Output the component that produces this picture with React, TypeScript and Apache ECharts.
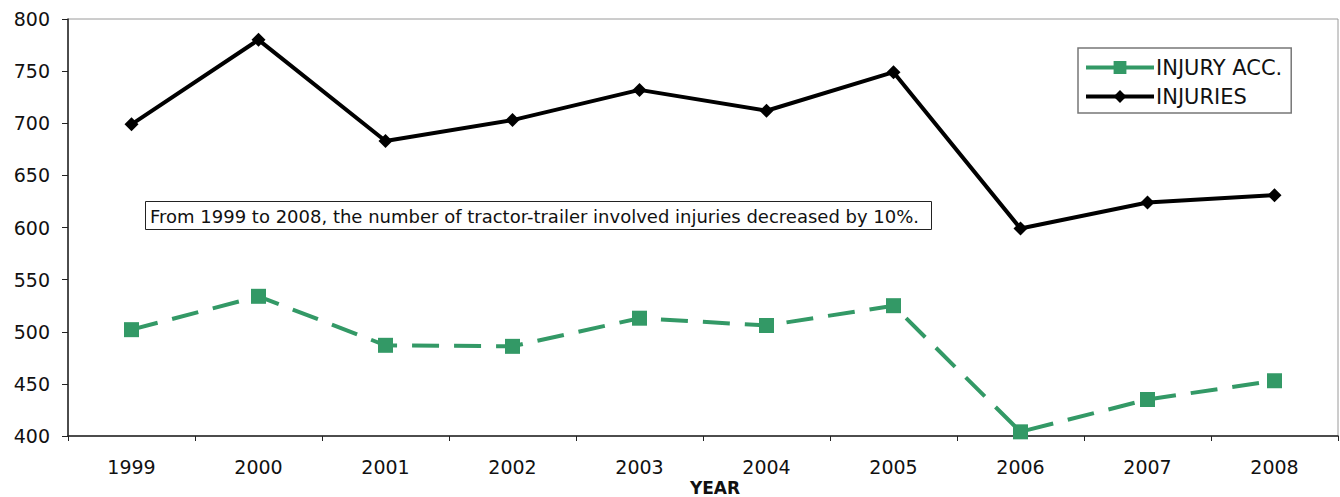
import React, { useEffect, useRef } from "react";
import * as echarts from "echarts";

const years = ["1999", "2000", "2001", "2002", "2003", "2004", "2005", "2006", "2007", "2008"];
const injuryAcc = [502, 534, 487, 486, 513, 506, 525, 404, 435, 453];
const injuries = [699, 780, 683, 703, 732, 712, 749, 599, 624, 631];
const annotation = "From 1999 to 2008, the number of tractor-trailer involved injuries decreased by 10%.";

export default function App() {
  const ref = useRef<HTMLDivElement>(null);
  useEffect(() => {
    if (!ref.current) return;
    const chart = echarts.init(ref.current, null, { renderer: "svg" });
    const font = "'DejaVu Sans', Arial, sans-serif";
    chart.setOption({
      animation: false,
      textStyle: { fontFamily: font },
      grid: {
        left: 68,
        right: 2,
        top: 19,
        bottom: 61,
        show: true,
        borderColor: "#9a9a9a",
        borderWidth: 1,
      },
      xAxis: {
        type: "category",
        data: years,
        boundaryGap: true,
        axisLine: { lineStyle: { color: "#222", width: 1.5 } },
        axisTick: { show: true, length: 5, lineStyle: { color: "#222" } },
        axisLabel: { color: "#111", fontSize: 19, margin: 21, fontFamily: font },
        splitLine: { show: false },
      },
      yAxis: {
        type: "value",
        min: 400,
        max: 800,
        interval: 50,
        axisLine: { show: true, lineStyle: { color: "#222", width: 1.5 } },
        axisTick: { show: true, length: 6, lineStyle: { color: "#222" } },
        axisLabel: { color: "#111", fontSize: 19, margin: 18, fontFamily: font },
        splitLine: { show: false },
      },
      legend: {
        orient: "vertical",
        left: 1078,
        top: 48,
        padding: [9, 9, 6, 6],
        itemGap: 8,
        itemWidth: 68,
        itemHeight: 16,
        borderColor: "#777",
        borderWidth: 1.5,
        backgroundColor: "#fff",
        textStyle: { color: "#111", fontSize: 21, fontFamily: font, padding: [0, 0, 0, -3] },
        data: [
          { name: "INJURY ACC.", lineStyle: { type: "solid", width: 4 } },
          { name: "INJURIES", lineStyle: { width: 4 } },
        ],
      },
      graphic: [
        {
          type: "rect",
          shape: { x: 145.5, y: 201.5, width: 786, height: 28 },
          style: { fill: "#fff", stroke: "#222", lineWidth: 1 },
          z: 100,
        },
        {
          type: "text",
          x: 150,
          y: 216,
          style: {
            text: annotation,
            fill: "#111",
            fontSize: 18,
            fontFamily: font,
            verticalAlign: "middle",
          },
          z: 101,
        },
        {
          type: "text",
          x: 715,
          y: 488,
          style: {
            text: "YEAR",
            fill: "#111",
            fontSize: 17,
            fontWeight: "bold",
            fontFamily: font,
            align: "center",
            verticalAlign: "middle",
          },
        },
      ],
      series: [
        {
          name: "INJURY ACC.",
          type: "line",
          data: injuryAcc,
          symbol: "rect",
          symbolSize: 15,
          showAllSymbol: true,
          itemStyle: { color: "#339966", borderWidth: 0 },
          lineStyle: { color: "#339966", width: 4, type: [27, 15] },
          z: 3,
        },
        {
          name: "INJURIES",
          type: "line",
          data: injuries,
          symbol: "diamond",
          symbolSize: 14,
          showAllSymbol: true,
          itemStyle: { color: "#000", borderWidth: 0 },
          lineStyle: { color: "#000", width: 4 },
          z: 3,
        },
      ],
    });
    return () => chart.dispose();
  }, []);
  return (
    <div
      ref={ref}
      style={{ position: "fixed", left: 0, top: 0, width: 1340, height: 497, background: "#fff" }}
    />
  );
}
